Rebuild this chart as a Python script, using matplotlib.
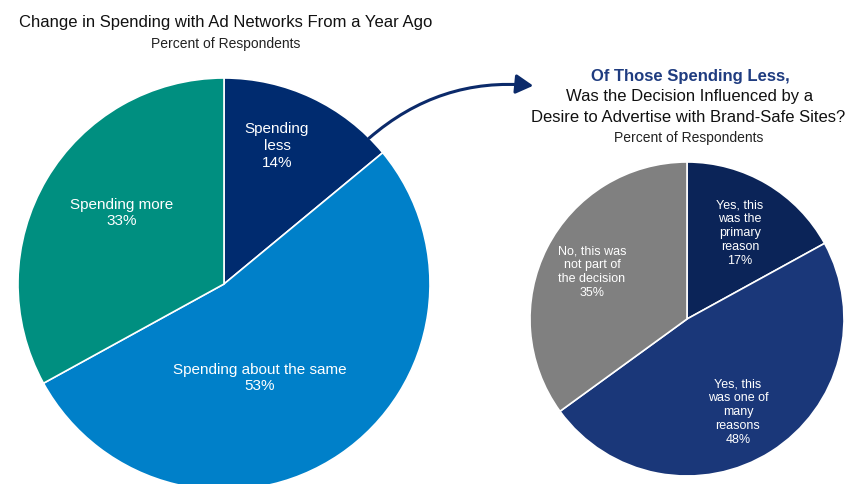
import matplotlib.pyplot as plt
from matplotlib.patches import FancyArrowPatch

plt.rcParams["font.family"] = ["Liberation Sans", "DejaVu Sans"]

# change in spending with ad networks
spend_labels = ["Spending\nless", "Spending about the same", "Spending more"]
spend_values = [14, 53, 33]
spend_colors = ["#002b6f", "#0080c9", "#008f80"]

# of those spending less: brand safety as a reason
reason_labels = ["Yes, this\nwas the\nprimary\nreason",
                 "Yes, this\nwas one of\nmany\nreasons",
                 "No, this was\nnot part of\nthe decision"]
reason_values = [17, 48, 35]
reason_colors = ["#0b2458", "#1a3779", "#808080"]

W, H = 854, 485
fig = plt.figure(figsize=(W / 100, H / 100), dpi=100)
ax = fig.add_axes([0, 0, 1, 1])

def py(y):
    # pixel rows from the top -> data y
    return H - y

ax.pie(spend_values, colors=spend_colors, startangle=90, counterclock=False,
       center=(224, py(285)), radius=206,
       wedgeprops=dict(edgecolor="white", linewidth=1.2))
ax.pie(reason_values, colors=reason_colors, startangle=90, counterclock=False,
       center=(687, py(320)), radius=157,
       wedgeprops=dict(edgecolor="white", linewidth=1.2))

ax.set_xlim(0, W)
ax.set_ylim(0, H)
ax.set_aspect("equal")
ax.axis("off")

spend_pos = [(277, 146), (260, 378), (122, 213)]
for lab, val, (x, y) in zip(spend_labels, spend_values, spend_pos):
    ax.text(x, py(y), f"{lab}\n{val}%", color="white", fontsize=11,
            ha="center", va="center", linespacing=1.25)

reason_pos = [(740, 233), (738, 412), (592, 272)]
for lab, val, (x, y) in zip(reason_labels, reason_values, reason_pos):
    ax.text(x, py(y), f"{lab}\n{val}%", color="white", fontsize=9,
            ha="center", va="center", linespacing=1.2)

# titles
ax.text(226, py(22), "Change in Spending with Ad Networks From a Year Ago",
        fontsize=12, ha="center", va="center", color="#111111")
ax.text(226, py(44), "Percent of Respondents", fontsize=10,
        ha="center", va="center", color="#222222")

ax.text(690, py(76), "Of Those Spending Less,", fontsize=12, fontweight="bold",
        ha="center", va="center", color="#1f3c80")
ax.text(690, py(97), "Was the Decision Influenced by a", fontsize=12,
        ha="center", va="center", color="#111111")
ax.text(688, py(118), "Desire to Advertise with Brand-Safe Sites?", fontsize=12,
        ha="center", va="center", color="#111111")
ax.text(689, py(138), "Percent of Respondents", fontsize=10,
        ha="center", va="center", color="#222222")

arrow = FancyArrowPatch((367, py(141)), (536, py(87)),
                        connectionstyle="arc3,rad=-0.22",
                        arrowstyle="-|>,head_length=0.8,head_width=0.45",
                        mutation_scale=13, lw=2.2, color="#0b2a6a")
ax.add_patch(arrow)

fig.savefig("out.png", dpi=100, facecolor="white")
